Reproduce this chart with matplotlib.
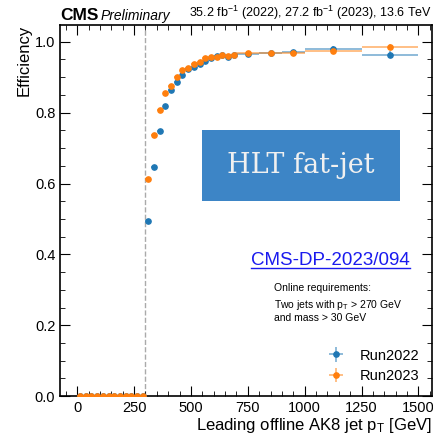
import numpy as np
import matplotlib
matplotlib.use("Agg")
import matplotlib.pyplot as plt
from matplotlib.ticker import MultipleLocator
from matplotlib.patches import Rectangle

plt.rcParams['font.family'] = ['Liberation Sans', 'DejaVu Sans']
plt.rcParams['mathtext.fontset'] = 'custom'
plt.rcParams['mathtext.rm'] = 'Liberation Sans'
plt.rcParams['mathtext.it'] = 'Liberation Sans:italic'

# ---- data ----
low_edges = list(range(0, 300, 25))
low_centers = [e + 12.5 for e in low_edges]
low_eff = [0.0] * len(low_centers)

centers = [312.5, 337.5, 362.5, 387.5, 412.5, 437.5, 462.5, 487.5, 512.5, 537.5,
           562.5, 587.5, 612.5, 637.5, 662.5, 687.5, 750, 850, 950, 1125, 1375]
halfw = [12.5] * 16 + [50, 50, 50, 125, 125]
eff_2022 = [0.495, 0.646, 0.748, 0.818, 0.863, 0.887, 0.907, 0.922, 0.930, 0.937,
            0.946, 0.953, 0.960, 0.962, 0.956, 0.962, 0.966, 0.968, 0.972, 0.981, 0.964]
eff_2023 = [0.614, 0.738, 0.808, 0.855, 0.875, 0.900, 0.920, 0.927, 0.937, 0.944,
            0.953, 0.957, 0.956, 0.962, 0.961, 0.964, 0.967, 0.968, 0.969, 0.973, 0.986]
err_2022 = [0.004] * 16 + [0.003, 0.004, 0.005, 0.006, 0.010]
err_2023 = [0.004] * 16 + [0.003, 0.004, 0.005, 0.006, 0.008]

labels = ["Run2022", "Run2023"]
threshold = 300

x_all = low_centers + centers
xerr_all = [12.5] * len(low_centers) + halfw
y22 = low_eff + eff_2022
y23 = low_eff + eff_2023
e22 = [0.0] * len(low_centers) + err_2022
e23 = [0.0] * len(low_centers) + err_2023

blue = "#1f77b4"
orange = "#ff7f0e"

fig = plt.figure(figsize=(4.33, 4.33), dpi=100)
ax = fig.add_axes([0.139, 0.085, 0.859, 0.857])

ax.errorbar(x_all, y22, xerr=xerr_all, yerr=e22, fmt='o', color=blue, ms=3.8,
            elinewidth=1.4, ecolor=(0.12, 0.47, 0.71, 0.5), capsize=0, label=labels[0], zorder=3)
ax.errorbar(x_all, y23, xerr=xerr_all, yerr=e23, fmt='o', color=orange, ms=3.8,
            elinewidth=1.4, ecolor=(1.0, 0.5, 0.05, 0.5), capsize=0, label=labels[1], zorder=4)

ax.axvline(threshold, color='#aaaaaa', ls='--', lw=1.0, zorder=1)

ax.set_xlim(-75, 1560)
ax.set_ylim(0, 1.047)
ax.xaxis.set_major_locator(MultipleLocator(250))
ax.xaxis.set_minor_locator(MultipleLocator(50))
ax.yaxis.set_major_locator(MultipleLocator(0.2))
ax.yaxis.set_minor_locator(MultipleLocator(0.05))
ax.tick_params(which='both', direction='in', top=True, right=True, labelsize=10.5)
ax.tick_params(which='major', length=7)
ax.tick_params(which='minor', length=3.5)
ax.set_yticklabels([f"{v:.1f}" for v in ax.get_yticks()])
for s in ax.spines.values():
    s.set_linewidth(1.2)

ax.set_xlabel(r"Leading offline AK8 jet p$_\mathrm{T}$ [GeV]", fontsize=12, loc='right', labelpad=1)
ax.set_ylabel("Efficiency", fontsize=12, loc='top', labelpad=2)

fig.text(0.139, 0.947, "CMS", fontsize=12.5, fontweight='bold', ha='left', va='bottom')
fig.text(0.232, 0.947, "Preliminary", fontsize=10, style='italic', ha='left', va='bottom')
fig.text(0.998, 0.949, r"35.2 fb$^{-1}$ (2022), 27.2 fb$^{-1}$ (2023), 13.6 TeV",
         fontsize=9, ha='right', va='bottom')

# HLT fat-jet box
ax.add_patch(Rectangle((0.382, 0.526), 0.532, 0.191, transform=ax.transAxes,
                       fc='#3d85c6', ec='none', zorder=5))
ax.text(0.648, 0.621, "HLT fat-jet", transform=ax.transAxes, fontsize=19.5,
        family='DejaVu Serif', color='#f0f0f0', ha='center', va='center', zorder=6)

# link
link = ax.text(0.726, 0.365, "CMS-DP-2023/094", transform=ax.transAxes, fontsize=13.5,
               color='#1a1aee', ha='center', va='center')
fig.canvas.draw()
bb = link.get_window_extent().transformed(ax.transAxes.inverted())
ax.plot([bb.x0, bb.x1], [bb.y0 + 0.004, bb.y0 + 0.004], transform=ax.transAxes,
        color='#1a1aee', lw=1.0, clip_on=False)

for i, line in enumerate(["Online requirements:",
                          "Two jets with p$_\\mathrm{T}$ > 270 GeV",
                          "and mass > 30 GeV"]):
    ax.text(0.575, 0.305 - i * 0.04, line, transform=ax.transAxes, fontsize=7.5,
            ha='left', va='top')

ax.legend(loc='lower right', bbox_to_anchor=(1.0, 0.0), frameon=False, fontsize=10.5,
          handlelength=1.6, borderaxespad=0.5, labelspacing=0.45)

fig.savefig("out.png", dpi=100)
